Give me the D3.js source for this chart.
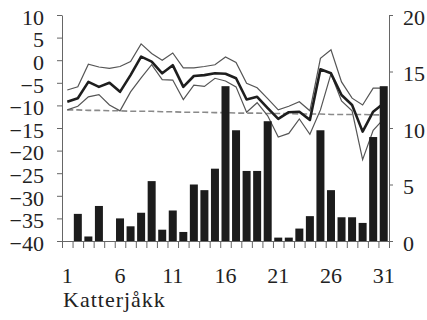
<!DOCTYPE html>
<html>
<head>
<meta charset="utf-8">
<script src="https://cdn.jsdelivr.net/npm/d3@7"></script>
<style>
  body { margin: 0; background: #fff; }
  svg text { font-family: "Liberation Serif", "Times New Roman", "DejaVu Serif", serif !important; fill: #222; }
</style>
</head>
<body>
<svg id="chart" width="427" height="320"></svg>
<script>
// days of the month
const days = [1,2,3,4,5,6,7,8,9,10,11,12,13,14,15,16,17,18,19,20,21,22,23,24,25,26,27,28,29,30,31]
// temperature (left axis)
const tMean = [-9.2,-8.4,-4.8,-5.9,-5.0,-7.0,-3.3,0.8,-0.3,-2.9,-1.1,-5.9,-3.5,-3.3,-2.9,-3.0,-4.0,-8.7,-8.1,-10.6,-13.0,-11.5,-11.4,-13.2,-2.0,-2.9,-7.7,-9.9,-15.8,-11.4,-9.5]
const tMax = [-6.6,-5.9,-0.9,-1.5,-1.8,-1.4,-0.3,3.6,1.5,0.0,1.6,-1.7,-1.7,-1.4,-1.0,0.7,-0.5,-5.1,-6.1,-8.5,-11.0,-10.2,-9.2,-11.2,0.4,2.3,-4.8,-8.4,-9.9,-6.2,-6.2]
const tMin = [-11.0,-10.2,-8.1,-7.6,-9.9,-11.2,-7.0,-3.9,-1.0,-4.3,-4.4,-8.7,-5.5,-5.8,-4.0,-4.6,-5.9,-11.5,-9.4,-12.3,-17.0,-16.2,-13.0,-16.4,-11.0,-3.0,-9.0,-11.2,-22.0,-15.5,-13.0]
const tNormal = [-11.0,-11.0,-11.1,-11.1,-11.2,-11.2,-11.3,-11.3,-11.3,-11.4,-11.4,-11.5,-11.5,-11.5,-11.6,-11.6,-11.7,-11.7,-11.7,-11.8,-11.8,-11.8,-11.9,-11.9,-11.9,-12.0,-12.0,-12.0,-12.0,-12.1,-12.1]
// precipitation (right axis)
const precip = [0,2.4,0.4,3.1,0,2.0,1.3,2.5,5.3,1.0,2.7,0.8,5.0,4.5,6.4,13.7,9.8,6.2,6.2,10.6,0.3,0.3,1.1,2.2,9.8,4.5,2.1,2.1,1.6,9.2,13.7]

const leftTicks = [10,5,0,-5,-10,-15,-20,-25,-30,-35,-40]
const rightTicks = [0,5,10,15,20]
const dayLabels = [1,6,11,16,21,26,31]
const station = "Katterjåkk"

const mLeft = 62, mRight = 389, mTop = 15, mBottom = 241
const svg = d3.select("#chart")

const x = d3.scaleLinear().domain([0.5, 31.5]).range([mLeft, mRight])
const yL = d3.scaleLinear().domain([-40, 10]).range([mBottom, mTop])
const yR = d3.scaleLinear().domain([0, 20]).range([mBottom, mTop])

const line = (vals) => d3.line()
  .x((d, i) => x(days[i]))
  .y(d => yL(d))(vals)

// lines
svg.append("path").attr("d", line(tNormal))
  .attr("fill", "none").attr("stroke", "#8a8a8a").attr("stroke-width", 1.6)
  .attr("stroke-dasharray", "6,3")
svg.append("path").attr("d", line(tMax))
  .attr("fill", "none").attr("stroke", "#555").attr("stroke-width", 1.2)
svg.append("path").attr("d", line(tMin))
  .attr("fill", "none").attr("stroke", "#555").attr("stroke-width", 1.2)
svg.append("path").attr("d", line(tMean))
  .attr("fill", "none").attr("stroke", "#1e1e1e").attr("stroke-width", 2.6)
  .attr("stroke-linejoin", "round")

// bars
const barW = 8
svg.append("g").selectAll("rect")
  .data(precip)
  .enter()
  .append("rect")
  .attr("x", (d, i) => x(days[i]) - barW / 2)
  .attr("y", d => yR(d))
  .attr("width", barW)
  .attr("height", d => mBottom - yR(d))
  .attr("fill", "#1c1c1c")

// axes
function styleAxis(g) {
  g.attr("font-family", null).attr("font-size", null)
  g.select(".domain").attr("stroke", "#666")
  g.selectAll(".tick line").attr("stroke", "#666")
  g.selectAll("text").attr("font-size", 22).attr("fill", "#222")
}

svg.append("g")
  .attr("transform", "translate(" + mLeft + ",0)")
  .call(d3.axisLeft(yL).tickValues(leftTicks).tickSize(5).tickSizeOuter(0).tickPadding(13))
  .call(styleAxis)
  .selectAll("text").attr("dy", "0.42em")

svg.append("g")
  .attr("transform", "translate(" + mRight + ",0)")
  .call(d3.axisRight(yR).tickValues(rightTicks).tickSize(4).tickSizeOuter(0).tickPadding(10))
  .call(styleAxis)
  .selectAll("text").attr("dy", "0.42em")

const edges = days.map(d => d - 0.5).concat([31.5])
svg.append("g")
  .attr("transform", "translate(0," + mBottom + ")")
  .call(d3.axisBottom(x).tickValues(edges).tickSize(7).tickSizeOuter(0).tickFormat(""))
  .call(styleAxis)

svg.append("g").selectAll("text")
  .data(dayLabels)
  .enter()
  .append("text")
  .attr("x", d => x(d))
  .attr("y", 283)
  .attr("text-anchor", "middle")
  .attr("font-size", 22)
  .text(d => d)

svg.append("text")
  .attr("x", 63)
  .attr("y", 307)
  .attr("font-size", 22)
  .attr("letter-spacing", 1)
  .text(station)
</script>
</body>
</html>
